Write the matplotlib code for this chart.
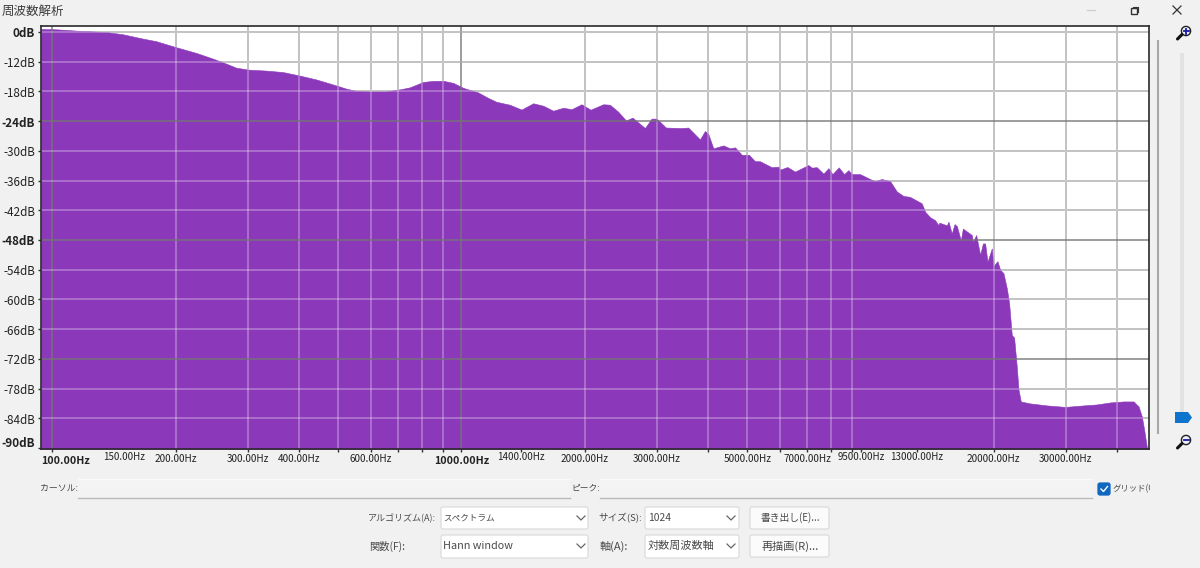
import numpy as np
import matplotlib
matplotlib.use("Agg")
import matplotlib.pyplot as plt
from matplotlib.patches import Rectangle, FancyBboxPatch, Circle, Polygon
from matplotlib.transforms import Bbox, TransformedBbox

plt.rcParams['font.family'] = ['Noto Sans CJK JP', 'DejaVu Sans']

freq_hz = [93.75, 102, 115.3, 123, 136.6, 148.6, 166, 179, 199, 225, 247, 266, 281, 300.6, 333, 366, 402, 442,
           485, 523, 553, 597, 655, 706, 747, 806, 854, 904, 956, 1011, 1098, 1161, 1218, 1313, 1402, 1498, 1585,
           1676, 1774, 1859, 1966, 2069, 2222, 2307, 2417, 2525, 2621, 2810, 2917, 3001, 3162, 3453, 3585, 3831,
           3939, 4014, 4130, 4369, 4536, 4666, 4847, 5047, 5221, 5370, 5736, 5957, 6012, 6266, 6541, 7051, 7187,
           7391, 7674, 7896, 8075, 8367, 8625, 8835, 9001, 9434, 9982, 10266, 10658, 11170, 11600, 12040, 12500,
           13350, 13610, 13990, 14390, 14670, 14750, 15380, 15520, 15810, 16060, 16270, 16640, 16830, 17700,
           17800, 18140, 18550, 18840, 19080, 19330, 19810, 20000, 20190, 20450, 20760, 21150, 21560, 21840,
           22170, 22460, 22800, 23020, 23320, 24590, 27010, 29950, 33200, 35800, 38580, 41600, 44000, 45260,
           46120, 46730, 47450, 48000]
level_db = [1.2, 1.07, 0.5, 0.3, -0.13, -0.93, -2.67, -3.7, -6, -8.5, -10.8, -12.4, -13.2, -13.6, -13.8, -14.1,
            -14.8, -15.6, -16.6, -17.45, -17.9, -18, -18, -17.6, -17.2, -16.1, -15.87, -15.87, -16.3, -17.3, -18.2,
            -19.3, -20.1, -20.7, -21.67, -20.4, -20.9, -21.9, -21.3, -21.6, -20.6, -21.7, -20.6, -20.7, -22.1,
            -23.87, -23.3, -25.4, -23.5, -23.5, -25.3, -25.4, -25.3, -27.7, -26, -26.6, -29.5, -28.9, -29.5, -29.3,
            -30.8, -30.8, -32.1, -32.1, -33.3, -33.2, -33.8, -33.27, -34.2, -32.87, -33.4, -33.3, -34.6, -33.5,
            -34.7, -33.35, -34.7, -33.9, -34.7, -34.7, -35.7, -36.1, -35.7, -36.1, -38.2, -39.1, -39.3, -40.6,
            -42.3, -43.4, -44, -45, -44.5, -45.05, -44.3, -46.7, -44.8, -45.2, -48.1, -45.7, -47, -48.4, -47, -51,
            -48.7, -48.7, -52.4, -49.7, -53.5, -52.8, -52.3, -54, -54.7, -57.8, -60.8, -67.2, -67.7, -73.6, -78.2,
            -80.6, -81, -81.4, -81.7, -81.4, -81.2, -80.8, -80.6, -80.6, -81.6, -83.7, -86.4, -90, -90.2]

db_ticks = [0, -12, -18, -24, -30, -36, -42, -48, -54, -60, -66, -72, -78, -84, -90]
db_bold = [0, -24, -48, -90]
db_dark = [-24, -48, -72]
freq_ticks = [100, 200, 300, 400, 500, 600, 700, 800, 900, 1000, 1400, 2000, 3000, 4000, 5000, 6000, 7000,
              8000, 9000, 9500, 13000, 20000, 30000, 40000]
freq_labeled = [100, 150, 200, 300, 400, 600, 1000, 1400, 2000, 3000, 5000, 7000, 9500, 13000, 20000, 30000]
freq_small = [150, 1400, 9500, 13000]
freq_bold = [100, 1000]
freq_grid = [100, 200, 300, 400, 500, 600, 700, 800, 900, 1000, 2000, 3000, 4000, 5000, 6000, 7000, 8000, 9000,
             20000, 30000, 40000]
freq_dark = [100, 1000]

W, H = 1200, 568
BG = '#f1f1f1'
fig = plt.figure(figsize=(W / 100, H / 100), dpi=100, facecolor=BG)
ax = fig.add_axes([41 / W, 1 - 449 / H, (1149 - 41) / W, (449 - 26) / H], facecolor='white')


def fwd(v):
    v = np.asarray(v, dtype=float)
    return np.where(v > -12, v * 0.5 - 6, v)


def inv(u):
    u = np.asarray(u, dtype=float)
    return np.where(u > -12, (u + 6) * 2, u)


ax.set_yscale('function', functions=(fwd, inv))
ax.set_xscale('log')
ax.set_xlim(93.75, 48000)
ax.set_ylim(-90.2, 2.4)

ax.fill_between(freq_hz, level_db, -90.2, color='#8B39BA', linewidth=0.4, zorder=2)


def gridline(draw, value, dark):
    # Ordinary lines read grey on white and pale lavender on the purple fill.
    if dark:
        draw(value, color='#757575', lw=1.1, alpha=0.9, zorder=3)
    else:
        draw(value, color='#969696', lw=1.1, zorder=1)
        draw(value, color='white', lw=1.1, alpha=0.35, zorder=3)


for f in freq_grid:
    gridline(ax.axvline, f, f in freq_dark)
for d in db_ticks[:-1]:
    gridline(ax.axhline, d, d in db_dark)

ax.minorticks_off()
ax.set_yticks(db_ticks)
ax.set_yticklabels([])
ax.tick_params(axis='y', length=2.4, width=1, color='#333333')
for d in db_ticks:
    dy = 5 if d == -90 else -2
    ax.annotate(f'{d}dB', xy=(0, d), xycoords=('axes fraction', 'data'), xytext=(-6, dy),
                textcoords='offset pixels', ha='right', va='center', fontsize=8.4, color='#222222',
                fontweight='bold' if d in db_bold else 'normal', annotation_clip=False)

ax.set_xticks(freq_ticks)
ax.set_xticklabels([])
ax.xaxis.set_minor_locator(matplotlib.ticker.NullLocator())
ax.tick_params(axis='x', length=2.4, width=1, color='#333333')
for f in freq_labeled:
    bold = f in freq_bold
    small = f in freq_small
    dy = -12 if bold else (-8.5 if small else -10)
    dx = 13 if f == 100 else 0
    size = 7.7 if bold else (7.0 if small else 7.2)
    ax.annotate(f'{f}.00Hz', xy=(f, 0), xycoords=('data', 'axes fraction'), xytext=(dx, dy),
                textcoords='offset pixels', ha='center', va='center', fontsize=size, color='#222222',
                fontweight='bold' if bold else 'normal', annotation_clip=False)
for s in ax.spines.values():
    s.set_color('#2a2a2a')
    s.set_linewidth(1.2)
    s.set_zorder(5)

# Window furniture, laid out in pixel coordinates on a transparent overlay
ui = fig.add_axes([0, 0, 1, 1], facecolor='none')
ui.set_xlim(0, W)
ui.set_ylim(H, 0)
ui.axis('off')
TXT = '#4a4a4a'


def label(x, y, s, ha='left', size=8, color=TXT, **kw):
    return ui.text(x, y, s, ha=ha, va='center', fontsize=size, color=color, **kw)


def rbox(x0, y0, x1, y1, fc='white', ec='#dcdcdc', r=2):
    ui.add_patch(FancyBboxPatch((x0 + r, y0 + r), x1 - x0 - 2 * r, y1 - y0 - 2 * r,
                                boxstyle=f'round,pad={r},rounding_size={r}', fc=fc, ec=ec, lw=0.9))


def chevron(x, y):
    ui.plot([x - 4, x, x + 4], [y - 2, y + 2, y - 2], color='#666666', lw=0.9)


def inputbox(x0, x1):
    ui.add_patch(Rectangle((x0, 479), x1 - x0, 19, fc='#f3f3f3', ec='none'))
    ui.plot([x0, x1], [479, 479], color='#fafafa', lw=1)
    ui.plot([x0, x1], [498, 498], color='#b9b9b9', lw=1)


def magnifier(cy, sign):
    ui.plot([1177.5, 1182], [cy + 8, cy + 3.5], color='#111111', lw=2.2, solid_capstyle='round')
    ui.add_patch(Circle((1186, cy), 4.6, fc='#eef0ff', ec='#222222', lw=1))
    ui.plot([1183.5, 1188.5], [cy, cy], color='#1a1aa8', lw=1.3)
    if sign == '+':
        ui.plot([1186, 1186], [cy - 2.5, cy + 2.5], color='#1a1aa8', lw=1.3)


label(2, 11, '周波数解析', size=9, color='#3c3c3c')
ui.plot([1087, 1095], [10, 10], color='#d0d0d0', lw=1)
ui.add_patch(Rectangle((1131, 8), 6, 6, fc='none', ec='#333333', lw=1))
ui.plot([1133, 1133, 1138, 1138], [8, 6.5, 6.5, 12], color='#333333', lw=0.8)
ui.plot([1173, 1181], [6, 14], color='#333333', lw=0.9)
ui.plot([1173, 1181], [14, 6], color='#333333', lw=0.9)

ui.plot([1158, 1158], [41, 433], color='#a9a9a9', lw=1.5)
ui.add_patch(Rectangle((1180, 53), 4, 360, fc='#e2e2e2', ec='none'))
ui.add_patch(Polygon([(1175, 412), (1188, 412), (1192, 417.5), (1188, 423), (1175, 423)], fc='#0f74cc', ec='none'))
magnifier(31, '+')
magnifier(440, '-')

label(40, 488, 'カーソル:', size=6.4)
inputbox(78, 570)
label(571, 488, 'ピーク:', size=6.3)
inputbox(600, 1092)
rbox(1098, 483, 1110, 495, fc='#0f67c0', ec='#0f67c0')
ui.plot([1101, 1103.5, 1107.5], [489, 491.5, 486.5], color='white', lw=1)
t = label(1113, 489, 'グリッド(G)', size=6)
t.set_clip_box(TransformedBbox(Bbox([[1113, 480], [1150, 498]]), ui.transData))
t.set_clip_on(True)

label(436, 518, 'アルゴリズム(A):', ha='right', size=6.5)
rbox(441, 507, 588, 529)
label(443, 518, 'スペクトラム', size=6.2)
chevron(581, 518)
label(369, 546, '関数(F):', size=7.4)
rbox(441, 535, 588, 558)
label(443, 546, 'Hann window', size=7.8)
chevron(581, 546)
label(598, 518, 'サイズ(S):', size=6.9)
rbox(645, 507, 739, 529)
label(648, 518, '1024', size=7.4)
chevron(731, 518)
label(600, 546, '軸(A):', size=8)
rbox(645, 535, 739, 558)
label(648, 546, '対数周波数軸', size=8)
chevron(731, 546)
rbox(750, 507, 829, 529, fc='#fbfbfb')
label(790, 518, '書き出し(E)...', ha='center', size=7)
rbox(750, 535, 829, 557, fc='#fbfbfb')
label(790, 546, '再描画(R)...', ha='center', size=8)

fig.savefig('out.png', dpi=100, facecolor=BG)
